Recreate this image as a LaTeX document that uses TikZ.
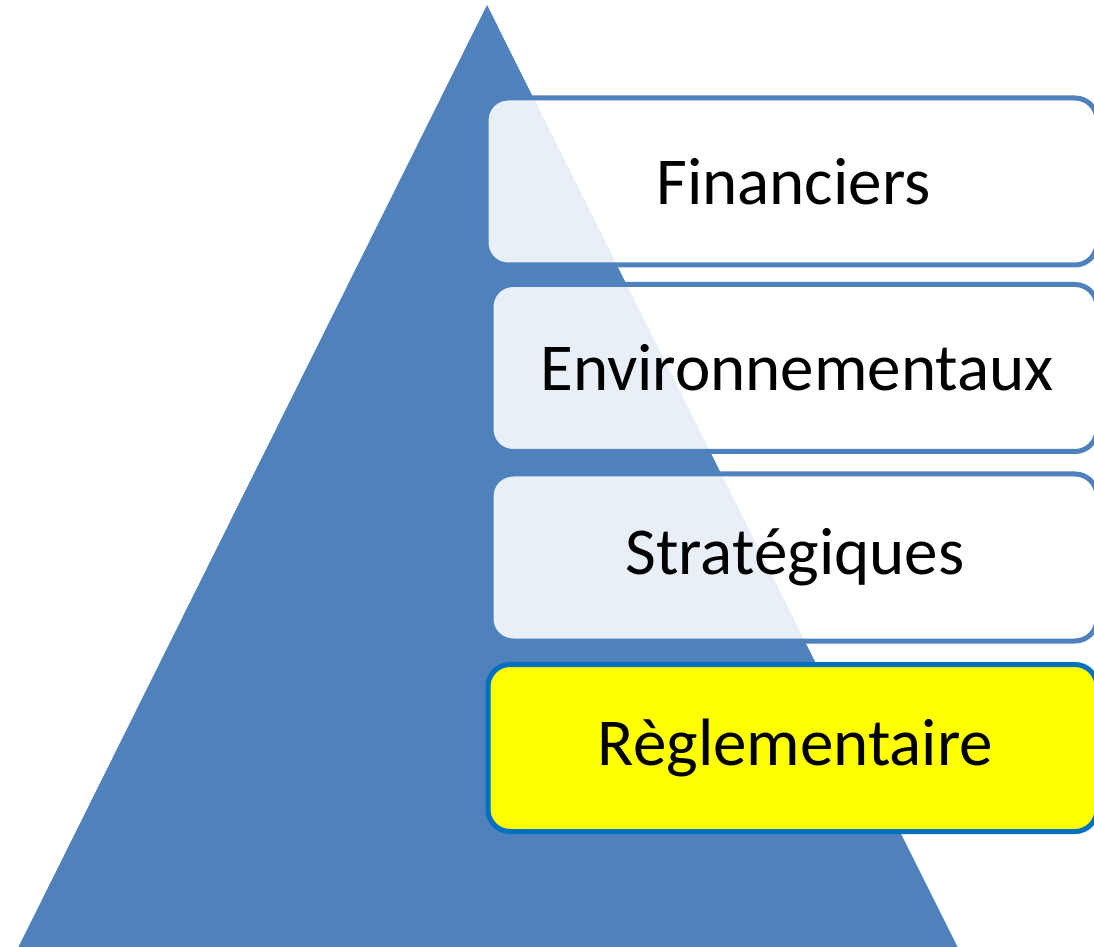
\documentclass[tikz,border=0pt]{standalone}
\usepackage{fontspec}
\setmainfont{Carlito}
\begin{document}
\begin{tikzpicture}[x=1pt,y=1pt,
  level/.style={draw=pyrblue, line width=5pt, fill=white, fill opacity=0.88, text opacity=1,
    rounded corners=22pt, minimum width=611pt, minimum height=167pt, inner sep=0pt,
    font=\fontsize{67}{80}\selectfont, text=black},
  hilite/.style={level, draw=hiblue, fill=hiyellow, fill opacity=1}]
\definecolor{pyrblue}{HTML}{4F81BD}
\definecolor{hiblue}{HTML}{0070C0}
\definecolor{hiyellow}{RGB}{255,255,0}
\useasboundingbox (0,0) rectangle (1094,946);
\clip (0,0) rectangle (1094,946);
\fill[pyrblue] (487,941) -- (18,-2) -- (958,-2) -- cycle;
\node[level] (fin) at (791.5,764.5) {\hspace*{4pt}Financiers};
\node[level, minimum width=606pt] (env) at (794,578) {\hspace*{6pt}Environnementaux};
\node[level, minimum width=606pt] (str) at (794,388.5) {\hspace*{2pt}Stratégiques};
\node[hilite, minimum width=609pt] (reg) at (792.5,198) {\hspace*{6pt}Règlementaire};
\end{tikzpicture}
\end{document}
